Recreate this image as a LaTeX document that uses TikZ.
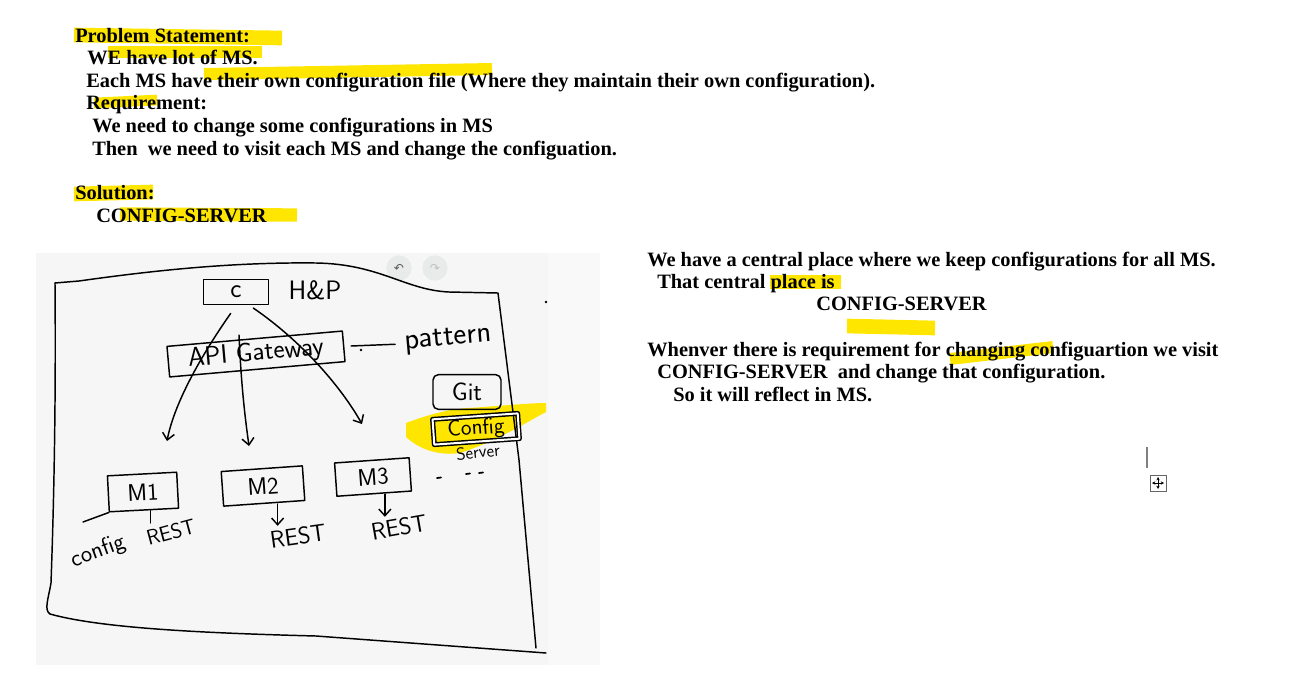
\documentclass[tikz,border=0pt]{standalone}
\usepackage{fontspec}
\setmainfont{Liberation Serif}
\newfontfamily\symfont{DejaVu Sans}
\usetikzlibrary{positioning,arrows.meta}
\definecolor{hlc}{HTML}{FFE600}
\definecolor{scrbg}{HTML}{F6F6F6}
\definecolor{scrbg2}{HTML}{F9F9F9}
\definecolor{btnc}{HTML}{E8EBEA}

\begin{document}
\begin{tikzpicture}[x=0.75pt, y=-0.75pt,
  txt/.style={anchor=base west, inner sep=0pt, font=\fontsize{15.3}{17}\selectfont\bfseries},
  hl/.style={draw=hlc, line cap=butt},
  ink/.style={line width=1.1pt, line join=round, line cap=round},
  hand/.style={font=\sffamily\fontsize{16}{16}\selectfont, inner sep=1pt},
  hbox/.style={draw, ink, hand, inner sep=0pt},
  tip/.style={-{Straight Barb[length=5pt,width=9pt]}}]
  \useasboundingbox (0,0) rectangle (1307,675);
  % highlights
  \draw[hl, line width=11pt] (74,35) -- (282,38);
  \draw[hl, line width=9pt] (108,52) -- (262,52);
  \draw[hl, line width=9pt] (204,74) -- (492,69);
  \draw[hl, line width=8pt] (94,103) -- (157,100);
  \draw[hl, line width=11pt] (74,194) -- (153,192);
  \draw[hl, line width=10pt] (120,214) -- (297,215);
  \draw[hl, line width=10pt] (770,282) -- (841,282);
  \draw[hl, line width=11pt] (847,326) -- (935,328);
  \draw[hl, line width=9pt] (950,359) -- (1053,347);
  % text
  \node[txt] (ps) at (75,42) {Problem Statement:};
  \node[txt] (l1) at (87,64) {WE have lot of MS.};
  \node[txt] (l2) at (86,87) {Each MS have their own configuration file (Where they maintain their own configuration).};
  \node[txt] (rq) at (86,109) {Requirement:};
  \node[txt] (l3) at (92,132) {We need to change some configurations in MS};
  \node[txt] (l4) at (92,155) {Then\ \ we need to visit each MS and change the configuation.};
  \node[txt] (sol) at (75,199) {Solution:};
  \node[txt] (cs1) at (96,222) {CONFIG-SERVER};
  \node[txt] (r1) at (647,266) {We have a central place where we keep configurations for all MS.};
  \node[txt] (r2) at (657,288) {That central place is};
  \node[txt] (r3) at (816,310) {CONFIG-SERVER};
  \node[txt] (r4) at (647,356) {Whenver there is requirement for changing configuartion we visit};
  \node[txt] (r5) at (657,378) {CONFIG-SERVER\ \ and change that configuration.};
  \node[txt] (r6) at (673,401) {So it will reflect in MS.};
  % sketch
  \fill[scrbg] (36,253) rectangle (548,665);
  \fill[scrbg2] (548,253) rectangle (600,665);
  \fill[hlc] (406,423) .. controls (430,414) and (450,409) .. (469,408) .. controls (500,406) and (530,403) .. (546,403)
    -- (546,412) .. controls (530,420) and (500,440) .. (460,453) .. controls (440,456) and (420,450) .. (406,437) -- cycle;
  \node[circle, fill=btnc, minimum size=19pt, inner sep=0pt, text=gray!70!black, font=\symfont\fontsize{9}{9}\selectfont] (undo) at (399,268) {↶};
  \node[circle, fill=btnc, minimum size=19pt, inner sep=0pt, text=gray!50, font=\symfont\fontsize{9}{9}\selectfont] (redo) at (435,268) {↷};
  \draw[ink] (55,283) -- (79,281) .. controls (150,271) and (230,262) .. (316,263)
    .. controls (380,264) and (405,290) .. (449,292) -- (498,293) -- (519,460) -- (536,648);
  \draw[ink] (55,283) .. controls (56,400) and (54,500) .. (51,583) .. controls (48,600) and (44,610) .. (50,614)
    .. controls (100,628) and (200,633) .. (316,636) -- (546,653);
  \fill (546,302) circle (1pt);
  \node[hbox, minimum width=49pt, minimum height=19pt, font=\sffamily\fontsize{20}{20}\selectfont] (c) at (236,292) {c};
  \node[hand, font=\sffamily\fontsize{20}{20}\selectfont] (hp) at (315,290) {H\&P};
  \node[hbox, rotate=5, minimum width=132pt, minimum height=23pt, font=\sffamily\fontsize{20}{20}\selectfont] (gw) at (256,354) {API Gateway};
  \node[hand, rotate=5, font=\sffamily\fontsize{23}{23}\selectfont] (pat) at (448,340) {pattern};
  \draw[ink, shorten <=5pt, shorten >=6pt] (gw.east) -- (pat.west);
  \fill (361,350) circle (1pt);
  \node[hbox, rounded corners=4pt, minimum width=51pt, minimum height=26pt, font=\sffamily\fontsize{19}{19}\selectfont] (git) at (467,392) {Git};
  \node[hbox, rotate=4, double, double distance=1.5pt, minimum width=64pt, minimum height=19pt, font=\sffamily\fontsize{17}{17}\selectfont] (cfg) at (476,429) {Config};
  \node[hand, rotate=6, font=\sffamily\fontsize{13}{13}\selectfont] (srv) at (478,452) {Server};
  \node[hbox, rotate=3, minimum width=52pt, minimum height=27pt, font=\sffamily\fontsize{18}{18}\selectfont] (m1) at (143,492) {M1};
  \node[hbox, rotate=4, minimum width=61pt, minimum height=26pt, font=\sffamily\fontsize{18}{18}\selectfont] (m2) at (263,486) {M2};
  \node[hbox, rotate=4, minimum width=56pt, minimum height=25pt, font=\sffamily\fontsize{18}{18}\selectfont] (m3) at (373,477) {M3};
  \node[hand, rotate=15] (rest1) at (171,532) {REST};
  \node[hand, rotate=8, font=\sffamily\fontsize{18}{18}\selectfont] (rest2) at (298,536) {REST};
  \node[hand, rotate=10, font=\sffamily\fontsize{18}{18}\selectfont] (rest3) at (399,527) {REST};
  \node[hand, rotate=20, font=\sffamily\fontsize{18}{18}\selectfont] (cfgl) at (98,552) {config};
  \coordinate (t1) at (167,441);
  \coordinate (a2s) at (239,335);
  \coordinate (t2) at (249,446);
  \coordinate (t3) at (362,424);
  \coordinate (cl) at (83,522);
  \draw[ink, tip] ([xshift=-4pt, yshift=-6pt]c.south) .. controls (205,350) and (175,400) .. (t1);
  \draw[ink, tip] (a2s) .. controls (241,380) and (244,410) .. (t2);
  \draw[ink, tip] ([xshift=13pt, yshift=-2pt]c.south) .. controls (300,340) and (340,385) .. (t3);
  \draw[ink] (cl) -- (m1.south west);
  \draw[ink] ([xshift=5pt]m1.south) -- ([xshift=5pt]m1.south |- rest1.north);
  \draw[ink, tip] ([xshift=10pt]m2.south) -- ([xshift=10pt]m2.south |- rest2.north);
  \draw[ink, tip] ([xshift=8pt]m3.south) -- ([xshift=8pt]m3.south |- rest3.north);
  \foreach \x/\y in {439/478, 468/474, 481/473} \draw[ink, line width=1.3pt] (\x-2,\y) -- (\x+2,\y-0.5);
  % cursor
  \draw[gray, line width=1.2pt] (1147,447) -- (1147,468);
  \node[draw=gray!80!black, minimum size=12pt, inner sep=0pt] (mv) at (1158,483) {};
  \foreach \a in {0,90,180,270} \draw[-{Stealth[length=2.5pt,width=2.5pt]}, line width=0.5pt] (mv.center) -- ++(\a:4.5pt);
\end{tikzpicture}
\end{document}
